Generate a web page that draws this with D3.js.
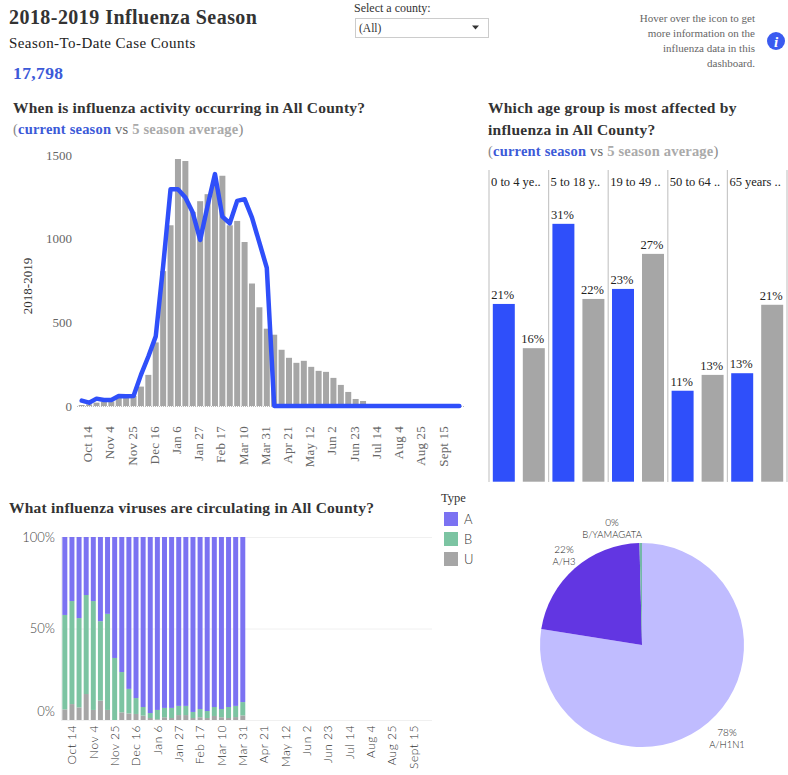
<!DOCTYPE html>
<html>
<head>
<meta charset="utf-8">
<title>2018-2019 Influenza Season</title>
<script src="https://cdn.jsdelivr.net/npm/d3@7"></script>
<style>
  body { margin:0; background:#fff; }
  svg { display:block; }
  text { font-family:"Liberation Serif",serif; }
  .sans text, text.sans { font-family:Lato,sans-serif; font-weight:300; }
  .domain { display:none; }
</style>
</head>
<body>
<svg id="dash" width="788" height="775"></svg>
<script>
// --- data ---
const weeks = ['Oct 7','Oct 14','Oct 21','Oct 28','Nov 4','Nov 11','Nov 18','Nov 25','Dec 2','Dec 9','Dec 16','Dec 23','Dec 30',
  'Jan 6','Jan 13','Jan 20','Jan 27','Feb 3','Feb 10','Feb 17','Feb 24','Mar 3','Mar 10','Mar 17','Mar 24','Mar 31',
  'Apr 7','Apr 14','Apr 21','Apr 28','May 5','May 12','May 19','May 26','Jun 2','Jun 9','Jun 16','Jun 23','Jun 30',
  'Jul 7','Jul 14','Jul 21','Jul 28','Aug 4','Aug 11','Aug 18','Aug 25','Sept 1','Sept 8','Sept 15','Sept 22','Sept 29'];
const weekTicks = ['Oct 14','Nov 4','Nov 25','Dec 16','Jan 6','Jan 27','Feb 17','Mar 10','Mar 31','Apr 21','May 12','Jun 2','Jun 23','Jul 14','Aug 4','Aug 25','Sept 15'];

const avgCases = [6,10,20,25,28,55,55,60,116,186,380,806,1080,1476,1464,1160,1224,1266,1350,1376,1080,1106,980,732,590,462,426,
  336,288,258,270,234,210,204,168,126,84,42,30,6,3,2,2,1,1,1,1,1,1,1,1,1];
const curCases = [32,20,44,36,36,60,58,60,186,296,416,836,1296,1296,1246,1156,992,1196,1386,1132,1092,1226,1236,1126,976,826,
  0,0,0,0,0,0,0,0,0,0,0,0,0,0,0,0,0,0,0,0,0,0,0,0,0,0];

const ageGroups = ['0 to 4 ye..','5 to 18 y..','19 to 49 ..','50 to 64 ..','65 years ..'];
const ageCurrent = [21.3,30.9,23.1,10.9,13.0];
const ageAverage = [16.0,21.9,27.3,12.8,21.2];

const typeU = [5.8,8.7,6.9,14.2,5.5,10.6,5.5,0,4.2,3.6,3.3,2.4,1.1,0.4,1.5,1.1,2.7,2.7,1.1,1.5,1.1,2.2,1.5,1.1,1.6,2.5];
const typeB = [51.6,56.3,48.8,54.1,59.5,43.4,52.5,33.9,22,13.4,8.7,4.7,2.7,5.1,5.1,5.5,5,5,3.3,4.5,3.8,4.9,4.5,6,6.1,7.3];
const typeA = [42.6,35,44.3,31.7,35,46,42,66.1,73.8,83,88,92.9,96.2,94.5,93.4,93.4,92.3,92.3,95.6,94,95.1,92.9,94,92.9,92.3,90.2];
const typeNames = ['A','B','U'];

const strainNames = ['A/H1N1','A/H3','B/YAMAGATA'];
const strainShare = [77.5,22.1,0.4];

const BLUE = '#2f4ffa', GREY = '#a6a6a6';
const TYPE_COLOR = {A:'#7b72f2', B:'#7cc4a2', U:'#a6a6a6'};
const STRAIN_COLOR = {'A/H1N1':'#c0bcff','A/H3':'#6236e2','B/YAMAGATA':'#74b8a8'};

const svg = d3.select('#dash');

function label(x, y, str, size, opts) {
  opts = opts || {};
  return svg.append('text').attr('x',x).attr('y',y).text(str)
    .attr('font-size',size)
    .attr('font-weight',opts.bold ? 'bold' : null)
    .attr('fill',opts.fill || '#333')
    .attr('text-anchor',opts.anchor || 'start')
    .attr('letter-spacing',opts.ls || null)
    .attr('class',opts.cls || null);
}

// (current season vs 5 season average)
function compareLine(x, y) {
  const t = svg.append('text').attr('x',x).attr('y',y).attr('font-size',14.5).attr('letter-spacing',0.2);
  t.append('tspan').text('(').attr('fill','#888');
  t.append('tspan').text('current season').attr('fill','#3c5ad8').attr('font-weight','bold');
  t.append('tspan').text(' vs ').attr('fill','#666');
  t.append('tspan').text('5 season average').attr('fill','#aaa').attr('font-weight','bold');
  t.append('tspan').text(')').attr('fill','#888');
}

// --- header ---
label(9,24,'2018-2019 Influenza Season',20,{bold:true,ls:0.45});
label(9,48,'Season-To-Date Case Counts',15,{fill:'#222',ls:0.43});
label(13,79,'17,798',17.5,{bold:true,fill:'#3c5ad8',ls:0.4});

label(354,12,'Select a county:',12,{fill:'#333'});
svg.append('rect').attr('x',355.5).attr('y',18.5).attr('width',133).attr('height',19).attr('fill','#fff').attr('stroke','#ccc');
label(359,32,'(All)',11.5,{fill:'#333'});
svg.append('path').attr('d','M472,25.5h7l-3.5,4z').attr('fill','#333');

['Hover over the icon to get','more information on the','influenza data in this','dashboard.'].forEach((s,i) => {
  label(755,22+i*15,s,11,{anchor:'end',fill:'#666'});
});
svg.append('circle').attr('cx',776).attr('cy',41).attr('r',9).attr('fill','#3b5bf0');
label(776,46.5,'i',15,{anchor:'middle',fill:'#fff',bold:true}).attr('font-style','italic');

// --- weekly cases ---
label(13,113,'When is influenza activity occurring in All County?',15.5,{bold:true,ls:0.23});
compareLine(13,134);

const x1 = d3.scaleBand().domain(weeks).range([77.3,463.7]).padding(0.19);
const y1 = d3.scaleLinear().domain([0,1500]).range([406,155]);

svg.append('line').attr('x1',77).attr('x2',464).attr('y1',406.5).attr('y2',406.5)
  .attr('stroke','#bbb').attr('stroke-dasharray','1,1');

svg.append('g').selectAll('rect').data(weeks).join('rect')
  .attr('x',d => x1(d)).attr('width',x1.bandwidth())
  .attr('y',(d,i) => y1(avgCases[i])).attr('height',(d,i) => y1(0)-y1(avgCases[i]))
  .attr('fill',GREY);

svg.append('path')
  .attr('d',d3.line().x((d,i) => x1(weeks[i])+x1.bandwidth()/2).y(d => y1(d))(curCases))
  .attr('fill','none').attr('stroke',BLUE).attr('stroke-width',4.5).attr('stroke-linejoin','round').attr('stroke-linecap','round');

const ay1 = svg.append('g').attr('transform','translate(72,0)')
  .call(d3.axisLeft(y1).tickValues([0,500,1000,1500]).tickFormat(d3.format('d')).tickSize(0).tickPadding(0));
ay1.selectAll('text').attr('font-size',13).attr('fill','#666').style('font-family','"Liberation Serif",serif');

const ax1 = svg.append('g').attr('transform','translate(0,406)')
  .call(d3.axisBottom(x1).tickValues(weekTicks).tickSize(0));
ax1.selectAll('text').attr('font-size',13).attr('fill','#666').attr('letter-spacing',0.2)
  .style('font-family','"Liberation Serif",serif')
  .attr('transform','rotate(-90)').attr('text-anchor','end').attr('x',-20).attr('y',-1.5).attr('dy','0.35em');

svg.append('text').attr('transform','translate(32,286) rotate(-90)').attr('text-anchor','middle')
  .attr('font-size',13).attr('fill','#333').text('2018-2019');

// --- age groups ---
label(488,113,'Which age group is most affected by',15.5,{bold:true,ls:0.25});
label(488,135,'influenza in All County?',15.5,{bold:true,ls:0.25});
compareLine(488,156);

const xAge = d3.scaleBand().domain(ageGroups).range([489,787]);
const xInner = d3.scaleBand().domain(['current','average']).range([0,xAge.bandwidth()]).paddingInner(0.267).paddingOuter(0.127);
const yAge = d3.scaleLinear().domain([0,31]).range([481.7,223]);

svg.append('g').selectAll('line').data(ageGroups.concat(['end'])).join('line')
  .attr('x1',d => d === 'end' ? 787 : xAge(d)).attr('x2',d => d === 'end' ? 787 : xAge(d))
  .attr('y1',170).attr('y2',482).attr('stroke','#c8c8c8').attr('stroke-width',1.2);

ageGroups.forEach((g,i) => {
  label(xAge(g)+2,186,g,12.5,{fill:'#222'});
  [['current',ageCurrent[i],BLUE],['average',ageAverage[i],GREY]].forEach(([k,v,col]) => {
    svg.append('rect').attr('x',xAge(g)+xInner(k)).attr('width',xInner.bandwidth())
      .attr('y',yAge(v)).attr('height',yAge(0)-yAge(v)).attr('fill',col);
    label(xAge(g)+xInner(k)+xInner.bandwidth()/2-1,yAge(v)-5,Math.round(v)+'%',12.5,{anchor:'middle',fill:'#222'});
  });
});

// --- virus types ---
label(9,513,'What influenza viruses are circulating in All County?',15.5,{bold:true,ls:0.23});

const x3 = d3.scaleBand().domain(weeks).range([60.2,432.5]).padding(0.3);
const y3 = d3.scaleLinear().domain([0,100]).range([720,537]);

svg.append('g').selectAll('line').data([0,50,100]).join('line')
  .attr('x1',61).attr('x2',432).attr('y1',d => y3(d)+0.5).attr('y2',d => y3(d)+0.5).attr('stroke','#f0f0f0');
svg.append('line').attr('x1',61.5).attr('x2',61.5).attr('y1',537).attr('y2',720).attr('stroke','#f0f0f0');

const typeRows = typeU.map((u,i) => ({week:weeks[i],U:u,B:typeB[i],A:typeA[i]}));
const stacked = d3.stack().keys(['U','B','A'])(typeRows);
svg.append('g').selectAll('g').data(stacked).join('g').attr('fill',d => TYPE_COLOR[d.key])
  .selectAll('rect').data(d => d).join('rect')
  .attr('x',d => x3(d.data.week)).attr('width',x3.bandwidth())
  .attr('y',d => y3(d[1])).attr('height',d => y3(d[0])-y3(d[1]));

const ay3 = svg.append('g').attr('class','sans').attr('transform','translate(55,0)')
  .call(d3.axisLeft(y3).tickValues([0,50,100]).tickFormat(d => d+'%').tickSize(0).tickPadding(0));
ay3.selectAll('text').attr('font-size',13).attr('fill','#444');
// the 0% label sits above the baseline in the original
ay3.selectAll('.tick').filter(d => d === 0).select('text').attr('y',-9);

const ax3 = svg.append('g').attr('class','sans').attr('transform','translate(0,720)')
  .call(d3.axisBottom(x3).tickValues(weekTicks).tickSize(0));
ax3.selectAll('text').attr('font-size',12).attr('fill','#333').attr('letter-spacing',0.5)
  .attr('transform','rotate(-90)').attr('text-anchor','end').attr('x',-5).attr('y',0).attr('dy','0.35em');

label(441,502,'Type',12.5,{fill:'#333'});
typeNames.forEach((t,i) => {
  svg.append('rect').attr('x',444).attr('y',512+i*20).attr('width',14).attr('height',14).attr('fill',TYPE_COLOR[t]);
  label(464,524+i*20,t,13,{fill:'#333',cls:'sans'});
});

// --- strain pie ---
const pieG = svg.append('g').attr('transform','translate(642,645)');
const arcs = d3.pie().sort(null)(strainShare);
pieG.selectAll('path').data(arcs).join('path')
  .attr('d',d3.arc().innerRadius(0).outerRadius(102))
  .attr('fill',(d,i) => STRAIN_COLOR[strainNames[i]]);

const pieLabelAnchors = [[727,732],[564,549],[612,522]];
strainNames.forEach((s,i) => {
  const [lx,ly] = pieLabelAnchors[i];
  label(lx,ly+4,Math.round(strainShare[i])+'%',10,{anchor:'middle',fill:'#222',cls:'sans'});
  label(lx,ly+16,s,9.5,{anchor:'middle',fill:'#222',cls:'sans'});
});
</script>
</body>
</html>
